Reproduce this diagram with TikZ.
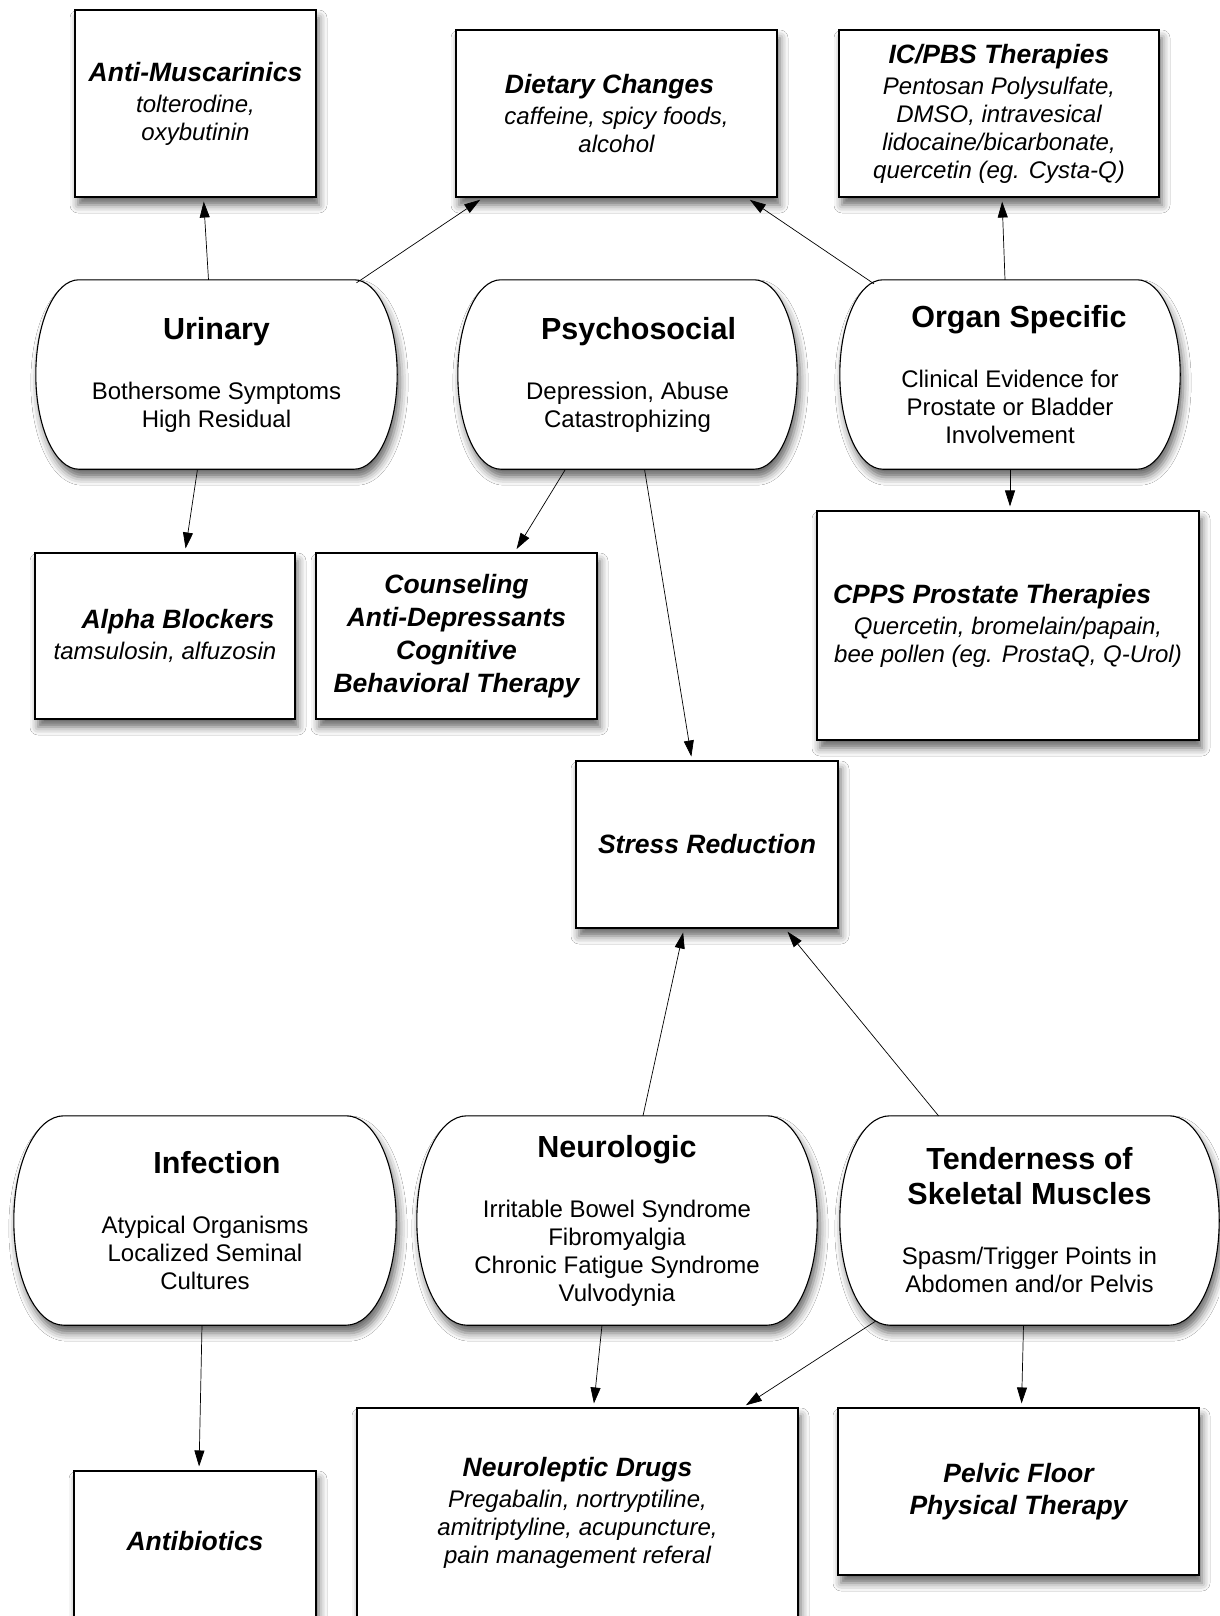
\documentclass[tikz,border=0pt]{standalone}
\usepackage{fontspec}
\setmainfont{Liberation Sans}
\usetikzlibrary{shadows.blur,arrows.meta,backgrounds}

\newcommand\causettl{\fontsize{30.5}{36}\selectfont\bfseries}
\newcommand\therhd{\fontsize{26.5}{32}\selectfont\bfseries\itshape}

\begin{document}
\begin{tikzpicture}[x=1pt,y=-1pt,
    shade/.style={blur shadow={shadow xshift=3pt,shadow yshift=-8pt,shadow blur radius=8pt,shadow opacity=60}},
    cause/.style={align=center,inner sep=0pt,font=\fontsize{24}{28}\selectfont},
    outline/.style={draw,line width=1.1pt,fill=white,shade},
    therapy/.style={draw,line width=1.1pt,fill=white,shade,align=center,inner sep=0pt,
        font=\fontsize{24}{28}\selectfont\itshape},
    arr/.style={-{Triangle[length=16pt,width=10pt]},line width=0.7pt,shorten >=4pt}]

    \path[use as bounding box] (0,0) rectangle (1219,1616);

    % therapies, top row
    \node[therapy,minimum width=241pt,minimum height=187pt] (antimusc) at (195.5,103.5)
        {{\therhd Anti-Muscarinics}\\[3pt]tolterodine,\\oxybutinin};
    \node[therapy,minimum width=321pt,minimum height=167pt] (dietary) at (616.5,113.5)
        {{\therhd Dietary Changes}\hspace*{14pt}\\[3pt]caffeine, spicy foods,\\alcohol};
    \node[therapy,minimum width=320pt,minimum height=167pt] (icpbs) at (999,113.5)
        {{\therhd IC/PBS Therapies}\\[3pt]Pentosan Polysulfate,\\DMSO, intravesical\\lidocaine/bicarbonate,\\quercetin (eg. Cysta-Q)};

    % phenotypes, upper row
    \node[cause,minimum width=361pt,minimum height=189pt] (urinary) at (216.5,374.5)
        {{\causettl Urinary}\\[32pt]Bothersome Symptoms\\High Residual};
    \node[cause,minimum width=339pt,minimum height=189pt] (psycho) at (627.5,374.5)
        {\hspace*{22pt}{\causettl Psychosocial}\\[32pt]Depression, Abuse\\Catastrophizing};
    \node[cause,minimum width=340pt,minimum height=189pt] (organ) at (1010,374.5)
        {\hspace*{18pt}{\causettl Organ Specific}\\[32pt]Clinical Evidence for\\Prostate or Bladder\\Involvement};

    % therapies, middle
    \node[therapy,minimum width=260pt,minimum height=166pt] (alpha) at (165,636)
        {\hspace*{26pt}{\therhd Alpha Blockers}\\[3pt]tamsulosin, alfuzosin};
    \node[therapy,minimum width=281pt,minimum height=166pt,font=\fontsize{26.5}{33}\selectfont\bfseries\itshape] (counsel) at (456.5,636)
        {Counseling\\Anti-Depressants\\Cognitive\\Behavioral Therapy};
    \node[therapy,minimum width=382pt,minimum height=229pt] (cpps) at (1008,625.5)
        {\makebox[350pt][l]{\therhd CPPS Prostate Therapies}\\[3pt]Quercetin, bromelain/papain,\\bee pollen (eg. ProstaQ, Q-Urol)};
    \node[therapy,minimum width=262pt,minimum height=167pt] (stress) at (707,844.5)
        {{\therhd Stress Reduction}};

    % phenotypes, lower row
    \node[cause,minimum width=382pt,minimum height=209pt] (infect) at (205,1220.5)
        {\hspace*{24pt}{\causettl Infection}\\[32pt]Atypical Organisms\\Localized Seminal\\Cultures};
    \node[cause,minimum width=400pt,minimum height=209pt] (neuro) at (617,1220.5)
        {{\causettl Neurologic}\\[32pt]Irritable Bowel Syndrome\\Fibromyalgia\\Chronic Fatigue Syndrome\\Vulvodynia};
    \node[cause,minimum width=379pt,minimum height=209pt] (tender) at (1029.5,1220.5)
        {{\causettl Tenderness of}\\[7pt]{\causettl Skeletal Muscles}\\[32pt]Spasm/Trigger Points in\\Abdomen and/or Pelvis};

    % therapies, bottom row
    \node[therapy,minimum width=242pt,minimum height=180pt] (antibio) at (195,1561)
        {\raisebox{20pt}[\height][\depth]{\therhd Antibiotics}};
    \node[therapy,minimum width=441pt,minimum height=210pt] (neurolep) at (577.5,1513)
        {{\therhd Neuroleptic Drugs}\\[3pt]Pregabalin, nortryptiline,\\amitriptyline, acupuncture,\\pain management referal};
    \node[therapy,minimum width=361pt,minimum height=167pt,font=\fontsize{26.5}{32}\selectfont\bfseries\itshape] (pelvic) at (1018.5,1491.5)
        {Pelvic Floor\\Physical Therapy};

    % rounded outlines of the phenotypes
    \begin{scope}[on background layer]
        \fill[white] (0,0) rectangle (1219,1616);
        \foreach \n/\rx/\hc/\vc in {urinary/43/24/52,psycho/43/24/52,organ/43/24/52,
                                   infect/50/28/58,neuro/50/28/58,tender/50/28/58}
            \draw[outline] ([xshift=\rx pt]\n.north west) -- ([xshift=-\rx pt]\n.north east)
                .. controls +(\hc,0) and +(0,-\vc) .. (\n.east)
                .. controls +(0,\vc) and +(\hc,0) .. ([xshift=-\rx pt]\n.south east)
                -- ([xshift=\rx pt]\n.south west)
                .. controls +(-\hc,0) and +(0,\vc) .. (\n.west)
                .. controls +(0,-\vc) and +(-\hc,0) .. ([xshift=\rx pt]\n.north west) -- cycle;
    \end{scope}

    % connectors
    \draw[arr] ([xshift=-8pt]urinary.north) -- ([xshift=8pt]antimusc.south);
    \draw[arr] ([xshift=140pt,yshift=-3pt]urinary.north) -- ([xshift=-133pt]dietary.south);
    \draw[arr] ([xshift=-136pt,yshift=-4pt]organ.north) -- ([xshift=130pt]dietary.south);
    \draw[arr] ([xshift=-5pt]organ.north) -- ([xshift=3pt]icpbs.south);
    \draw[arr] ([xshift=-19pt]urinary.south) -- ([xshift=20pt]alpha.north);
    \draw[arr] ([xshift=-62pt]psycho.south) -- ([xshift=58pt]counsel.north);
    \draw[arr] ([xshift=17pt]psycho.south) -- ([xshift=-15pt]stress.north);
    \draw[arr] (organ.south) -- (organ.south |- cpps.north);
    \draw[arr] ([xshift=26pt]neuro.north) -- ([xshift=-23pt]stress.south);
    \draw[arr] ([xshift=-91pt]tender.north) -- ([xshift=78pt]stress.south);
    \draw[arr] ([xshift=-3pt]infect.south) -- ([xshift=4pt]antibio.north);
    \draw[arr] ([xshift=-15pt]neuro.south) -- ([xshift=16pt]neurolep.north);
    \draw[arr] ([xshift=-154pt,yshift=4pt]tender.south) -- ([xshift=165pt]neurolep.north);
    \draw[arr] ([xshift=-6pt]tender.south) -- ([xshift=3pt]pelvic.north);
\end{tikzpicture}
\end{document}
